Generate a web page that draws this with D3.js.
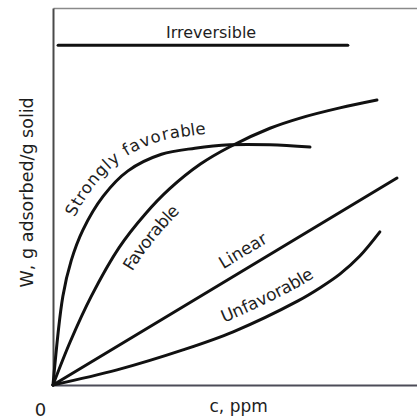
<!DOCTYPE html>
<html>
<head>
<meta charset="utf-8">
<script src="https://cdn.jsdelivr.net/npm/d3@7"></script>
<style>
  html, body { margin: 0; padding: 0; background: #ffffff; }
  svg { display: block; }
  text { font-family: "DejaVu Sans", sans-serif; fill: #1e1e1e; }
</style>
</head>
<body>
<svg id="chart" width="417" height="419"></svg>
<script>
// ---- data (c in ppm, W in g adsorbed / g solid; arbitrary units 0..100) ----
const seriesNames = ["Irreversible", "Strongly favorable", "Favorable", "Linear", "Unfavorable"];

const irreversibleC = [1.4, 81.0];
const irreversibleW = [90.1, 90.1];

const strongC = [0, 2.7, 5.0, 8.2, 13.8, 20.6, 29.8, 39.0, 48.6, 59.6, 70.6];
const strongW = [0, 23.5, 33.0, 41.1, 50.1, 56.8, 61.2, 62.8, 63.7, 63.7, 63.1];

const favorableC = [0, 4.7, 10.5, 18.2, 25.3, 32.0, 40.5, 48.6, 59.6, 67.9, 78.8, 89.0];
const favorableW = [0, 11.4, 23.5, 36.5, 45.3, 52.0, 58.6, 63.2, 68.1, 70.8, 73.5, 75.6];

const linearC = [0, 94.5];
const linearW = [0, 54.9];

const unfavorableC = [0, 17.6, 35.7, 49.5, 67.3, 73.4, 78.8, 84.3, 89.8];
const unfavorableW = [0, 4.0, 9.3, 14.1, 22.3, 25.8, 29.4, 34.2, 40.6];

const xAxisTitle = "c, ppm";
const yAxisTitle = "W, g adsorbed/g solid";
const originLabel = "0";

// ---- layout / label placement config ----
const labelPlacement = [
  { c: 43.4, w: 90.1, dy: -7.5, size: 16 },
  { c: 22.3, w: 58.3, dy: -13,  size: 16.5 },
  { c: 22.8, w: 42.2, dy: 24,   size: 17 },
  { c: 54.1, w: 32.6, dy: -11.5, size: 17 },
  { c: 61.3, w: 19.1, dy: -12,  size: 17 }
];

const svg = d3.select("#chart");
const x = d3.scaleLinear().domain([0, 100]).range([53, 417]);
const y = d3.scaleLinear().domain([0, 100]).range([385, 8]);

// axes (frame lines)
svg.append("g").attr("transform", `translate(0,${y(100)})`)
  .call(d3.axisTop(x).tickValues([]).tickSizeOuter(0))
  .call(g => g.select(".domain").attr("stroke", "#8a8a8a").attr("stroke-width", 1.5));
svg.append("g").attr("transform", `translate(${x(0)},0)`)
  .call(d3.axisLeft(y).tickValues([]).tickSizeOuter(0))
  .call(g => g.select(".domain").attr("stroke", "#4a4a4a").attr("stroke-width", 2));
svg.append("g").attr("transform", `translate(0,${y(0)})`)
  .call(d3.axisBottom(x).tickValues([]).tickSizeOuter(0))
  .call(g => g.select(".domain").attr("stroke", "#4c4c58").attr("stroke-width", 2));

const seriesData = [
  d3.zip(irreversibleC, irreversibleW),
  d3.zip(strongC, strongW),
  d3.zip(favorableC, favorableW),
  d3.zip(linearC, linearW),
  d3.zip(unfavorableC, unfavorableW)
];

const line = d3.line()
  .x(d => x(d[0]))
  .y(d => y(d[1]))
  .curve(d3.curveCatmullRom.alpha(0.5));

const paths = svg.append("g").selectAll("path")
  .data(seriesData)
  .join("path")
  .attr("id", (d, i) => "curve" + i)
  .attr("d", line)
  .attr("fill", "none")
  .attr("stroke", "#111")
  .attr("stroke-width", 3)
  .attr("stroke-linecap", "round");

function nearestLength(node, px, py) {
  const L = node.getTotalLength();
  let best = 0, bd = Infinity;
  for (let s = 0; s <= L; s += 0.25) {
    const p = node.getPointAtLength(s);
    const d = (p.x - px) ** 2 + (p.y - py) ** 2;
    if (d < bd) { bd = d; best = s; }
  }
  return best;
}

paths.each(function (d, i) {
  const lp = labelPlacement[i];
  const off = nearestLength(this, x(lp.c), y(lp.w));
  svg.append("text")
    .attr("font-size", lp.size)
    .attr("dy", lp.dy)
    .append("textPath")
    .attr("href", "#curve" + i)
    .attr("startOffset", off)
    .attr("text-anchor", "middle")
    .text(seriesNames[i]);
});

// axis titles
svg.append("text")
  .attr("x", x(51))
  .attr("y", y(0) + 26.5)
  .attr("text-anchor", "middle")
  .attr("font-size", 17)
  .text(xAxisTitle);

svg.append("text")
  .attr("transform", `translate(${x(0) - 20},${y(51.1)}) rotate(-90)`)
  .attr("text-anchor", "middle")
  .attr("font-size", 17.5)
  .text(yAxisTitle);

svg.append("text")
  .attr("x", x(0) - 12.5)
  .attr("y", y(0) + 31)
  .attr("text-anchor", "middle")
  .attr("font-size", 18)
  .text(originLabel);
</script>
</body>
</html>
